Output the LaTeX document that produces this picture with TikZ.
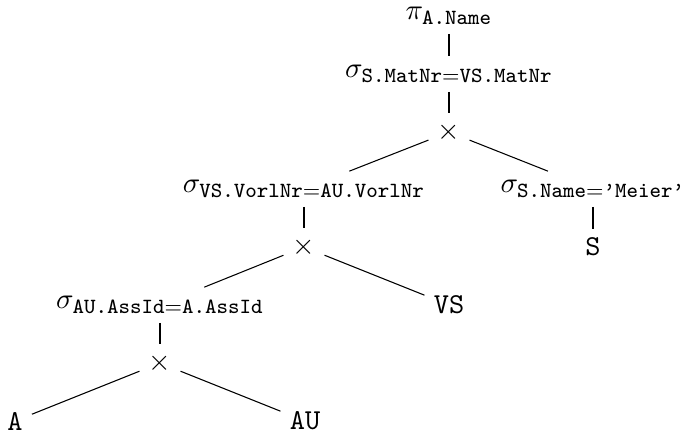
\documentclass[tikz,border=0pt]{standalone}
\usepackage{amsmath}
\DeclareMathSizes{10.95}{10.95}{8.2}{6.2}
\begin{document}
\begin{tikzpicture}[x=0.37879pt,y=-0.37879pt,
  font=\fontsize{10.95}{13.6}\selectfont,
  opnode/.style={inner sep=.3333em},
  edge/.style={draw=black,line width=0.4pt}]
\useasboundingbox (0,0) rectangle (683,432);
\node[opnode] (pi) at (449,16) {$\pi_{\texttt{A.Name}}$};
\node[opnode] (s1) at (449,74) {$\sigma_{\texttt{S.MatNr}=\texttt{VS.MatNr}}$};
\node[opnode] (x1) at (449,132) {$\times$};
\node[opnode] (s2) at (304,189) {$\sigma_{\texttt{VS.VorlNr}=\texttt{AU.VorlNr}}$};
\node[opnode] (s3) at (593,189) {$\sigma_{\texttt{S.Name}=\texttt{’Meier’}}$};
\node[opnode] (x2) at (304,247) {$\times$};
\node[opnode] (S) at (593,247) {\texttt{S}};
\node[opnode] (s4) at (160,305) {$\sigma_{\texttt{AU.AssId}=\texttt{A.AssId}}$};
\node[opnode] (VS) at (449,305) {\texttt{VS}};
\node[opnode] (x3) at (160,363) {$\times$};
\node[opnode] (A) at (15,421) {\texttt{A}};
\node[opnode] (AU) at (305,421) {\texttt{AU}};
\draw[edge] (pi) -- (s1);
\draw[edge] (s1) -- (x1);
\draw[edge] (x1) -- (s2);
\draw[edge] (x1) -- (s3);
\draw[edge] (s2) -- (x2);
\draw[edge] (s3) -- (S);
\draw[edge] (x2) -- (s4);
\draw[edge] (x2) -- (VS);
\draw[edge] (s4) -- (x3);
\draw[edge] (x3) -- (A);
\draw[edge] (x3) -- (AU);
\end{tikzpicture}
\end{document}
